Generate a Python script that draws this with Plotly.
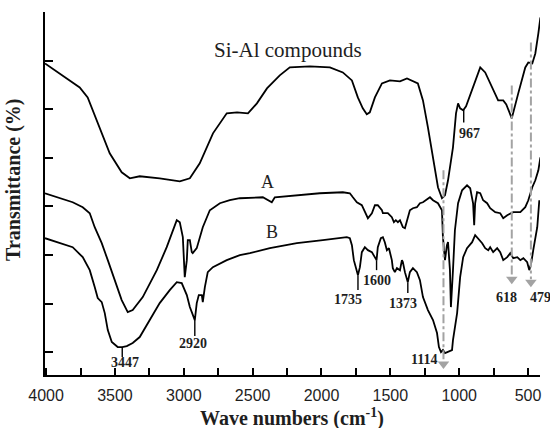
import numpy as np
import plotly.graph_objects as go

# ---- data (wavenumber in cm-1, transmittance in arbitrary units) ----
wn_si = [4008,3756,3698,3610,3538,3451,3392,3320,3175,3029,2956,2884,2788,2688,2613,2534,2469,2396,2303,2230,
         2084,1939,1845,1779,1736,1700,1671,1649,1612,1561,1503,1430,1379,1300,1263,1227,1190,1154,1125,1103,
         1081,1045,1023,1008,993,971,950,920,884,847,811,760,717,680,658,618,604,571,520,498,469,447,425,410]
t_si = [312,288,278,248,222,203,197,199,197,194,197,212,242,262,263,262,272,287,300,308,
        309,308,303,295,278,267,261,263,278,292,295,294,297,292,275,248,218,188,177,180,
        195,228,262,272,267,265,269,280,295,308,303,287,275,275,271,257,265,282,308,313,312,322,342,358]

wn_a = [4008,3901,3807,3734,3683,3647,3596,3552,3501,3451,3407,3371,3298,3196,3124,3051,3029,3007,2993,2978,
        2971,2956,2942,2935,2906,2862,2811,2738,2666,2593,2426,2390,2361,2339,2179,2012,1845,1794,1772,1743,
        1707,1685,1663,1634,1612,1591,1561,1554,1518,1489,1474,1460,1445,1430,1409,1394,1379,1358,1336,1307,
        1285,1263,1212,1190,1154,1125,1118,1103,1089,1081,1067,1060,1045,1031,1008,979,943,920,899,891,
        884,870,847,826,797,775,738,702,680,651,607,556,520,498,469,447,425,410]
t_a = [182,177,173,168,162,148,132,115,95,75,63,65,78,105,128,155,153,138,98,115,
       135,135,123,122,127,148,165,172,175,177,178,175,173,178,180,182,183,182,178,173,
       170,163,157,162,170,170,165,162,162,158,153,155,153,155,148,147,155,165,167,168,
       172,173,178,175,172,165,138,115,130,133,105,68,105,145,172,185,190,187,172,150,
       172,183,182,175,172,167,163,162,157,160,163,163,168,175,188,195,205,218]

wn_b = [4008,3901,3807,3734,3683,3647,3625,3596,3574,3552,3523,3480,3447,3414,3371,3320,3247,3175,3102,3051,
        3015,2978,2956,2920,2906,2891,2869,2862,2847,2826,2789,2688,2593,2520,2375,2179,1990,1888,1816,1794,
        1779,1765,1735,1721,1707,1685,1663,1634,1612,1600,1591,1569,1554,1540,1525,1510,1489,1482,1467,1452,
        1430,1416,1409,1394,1373,1358,1336,1307,1285,1263,1227,1190,1161,1147,1132,1118,1103,1081,1052,1045,
        1015,993,971,943,906,884,862,833,811,789,775,753,724,702,680,651,629,607,578,556,
        534,506,491,477,462,433,418]
t_b = [137,132,128,118,105,88,77,73,62,45,33,28,28,29,32,38,55,72,85,93,
       92,80,68,55,72,80,80,73,88,103,108,115,120,122,127,132,135,137,138,137,
       130,115,100,108,123,128,125,123,118,115,128,137,138,133,125,127,115,107,103,107,
       105,115,113,103,93,103,107,103,95,78,65,55,42,28,23,25,22,23,25,35,
       62,98,118,127,133,140,137,132,127,125,128,123,127,123,115,118,122,117,118,115,
       117,113,105,112,125,148,175]

peaks_b = [3447, 2920, 1735, 1600, 1373]
peaks_si = [967]
arrow_wn = [1114, 618, 479]

# ---- figure ----
SERIF = "Times New Roman, Liberation Serif, serif"
SANS = "Arial, Liberation Sans, sans-serif"
GRAY = "#a3a3a3"
INK = "#1e1e1e"

fig = go.Figure()
for wn, t in [(wn_si, t_si), (wn_a, t_a), (wn_b, t_b)]:
    fig.add_trace(go.Scatter(x=wn, y=t, mode="lines",
                             line=dict(color="black", width=1.8), showlegend=False, hoverinfo="skip"))

def interp(wn_list, t_list, w):
    return float(np.interp(w, wn_list[::-1], t_list[::-1]))

# black peak marker lines
marker_len = {3447: 10, 2920: 16, 1735: 15, 1600: 10, 1373: 11, 967: 13}
for w in peaks_b:
    v = interp(wn_b, t_b, w)
    fig.add_trace(go.Scatter(x=[w, w], y=[v, v - marker_len[w]], mode="lines",
                             line=dict(color="black", width=1.4), showlegend=False, hoverinfo="skip"))
for w in peaks_si:
    v = interp(wn_si, t_si, w)
    fig.add_trace(go.Scatter(x=[w, w], y=[v, v - marker_len[w]], mode="lines",
                             line=dict(color="black", width=1.4), showlegend=False, hoverinfo="skip"))

# gray dash-dot guide lines with arrowheads
arrow_top = [205, 290, 333]
arrow_end = [14, 98, 96]
arrow_head = [11, 96, 93]
for w, top, end, hd in zip(arrow_wn, arrow_top, arrow_end, arrow_head):
    fig.add_trace(go.Scatter(x=[w, w], y=[top, end], mode="lines",
                             line=dict(color=GRAY, width=2, dash="dashdot"),
                             showlegend=False, hoverinfo="skip"))
    fig.add_trace(go.Scatter(x=[w], y=[hd], mode="markers",
                             marker=dict(symbol="triangle-down", size=10, color=GRAY),
                             showlegend=False, hoverinfo="skip", cliponaxis=False))

# peak labels
labels = [("3447", 3429, 13), ("2920", 2935, 32), ("1735", 1808, 76), ("1600", 1598, 95),
          ("1373", 1409, 72), ("1114", 1256, 16), ("618", 653, 78), ("479", 413, 78), ("967", 922, 242)]
for txt, x, y in labels:
    fig.add_annotation(x=x, y=y, text="<b>" + txt + "</b>", showarrow=False,
                       font=dict(family=SERIF, size=14, color=INK), xanchor="center", yanchor="middle")

fig.add_annotation(x=2244, y=325, text="Si-Al compounds", showarrow=False,
                   font=dict(family=SERIF, size=21, color=INK), xanchor="center", yanchor="middle")
fig.add_annotation(x=2390, y=193, text="A", showarrow=False,
                   font=dict(family=SERIF, size=18, color=INK), xanchor="center", yanchor="middle")
fig.add_annotation(x=2361, y=143, text="B", showarrow=False,
                   font=dict(family=SERIF, size=18, color=INK), xanchor="center", yanchor="middle")

# axis titles
fig.add_annotation(xref="paper", yref="paper", x=-0.065, y=0.537, text="<b>Transmittance (%)</b>",
                   textangle=-90, showarrow=False, xanchor="center", yanchor="middle",
                   font=dict(family=SERIF, size=20, color=INK))
fig.add_annotation(xref="paper", yref="paper", x=0.499, y=-0.118,
                   text="<b>Wave numbers (cm<sup>-1</sup>)</b>", showarrow=False,
                   xanchor="center", yanchor="middle",
                   font=dict(family=SERIF, size=20, color=INK))

fig.update_layout(
    width=550, height=428,
    margin=dict(l=45, r=10, t=12, b=53),
    paper_bgcolor="white", plot_bgcolor="white",
    xaxis=dict(range=[4008, 413], showgrid=False, zeroline=False,
               showline=True, linecolor="black", linewidth=2,
               ticks="inside", ticklen=7, tickwidth=2, tickcolor="black",
               tickmode="linear", tick0=0, dtick=500, ticklabelstandoff=5,
               minor=dict(ticks="inside", ticklen=7, tickwidth=2, tickcolor="black", dtick=250, tick0=0),
               tickfont=dict(family=SANS, size=16, color=INK)),
    yaxis=dict(range=[0, 363.5], showgrid=False, zeroline=False,
               showline=True, linecolor="black", linewidth=2,
               ticks="inside", ticklen=8, tickwidth=2, tickcolor="black",
               tickmode="linear", tick0=23, dtick=48.6, showticklabels=False),
)

# remove the page's default body margin so the 550x428 figure fills the frame exactly
fig.write_html("out.html", config={"displayModeBar": False},
               post_script="document.body.style.margin='0px';")
